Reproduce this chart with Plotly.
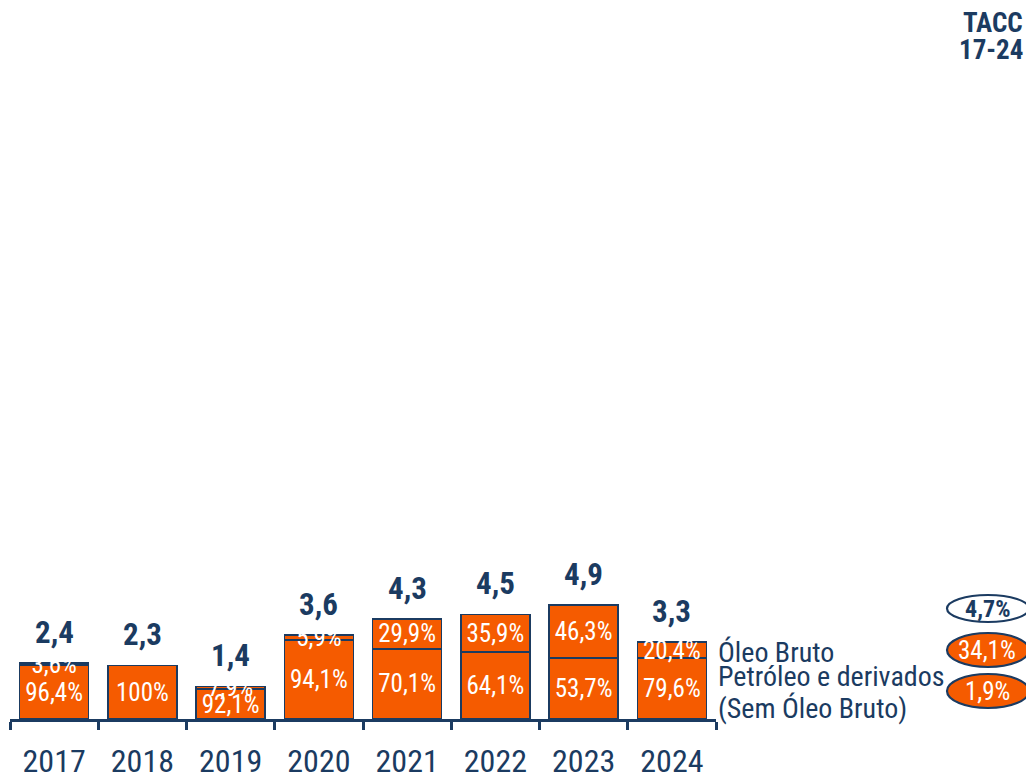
import plotly.graph_objects as go

years = ['2017', '2018', '2019', '2020', '2021', '2022', '2023', '2024']
totals = [2.4, 2.3, 1.4, 3.6, 4.3, 4.5, 4.9, 3.3]
share_oleo = [3.6, 0.0, 7.9, 5.9, 29.9, 35.9, 46.3, 20.4]
share_deriv = [96.4, 100.0, 92.1, 94.1, 70.1, 64.1, 53.7, 79.6]
series_names = ['Óleo Bruto', 'Petróleo e derivados<br>(Sem Óleo Bruto)']
tacc_title = 'TACC<br>17-24'
tacc_total = 4.7
tacc_oleo = 34.1
tacc_deriv = 1.9

ORANGE = '#F55B00'
NAVY = '#1B3B61'
FONT = 'Roboto Condensed, Liberation Sans Narrow, Arial Narrow, DejaVu Sans Condensed, Roboto, sans-serif'


def fmt(v, pct=True):
    if v == 0:
        return ''
    s = '100' if v == 100 else f'{v:.1f}'.replace('.', ',')
    return s + ('%' if pct else '')


deriv_vals = [t * s / 100 for t, s in zip(totals, share_deriv)]
oleo_vals = [t * s / 100 for t, s in zip(totals, share_oleo)]

fig = go.Figure()
fig.add_trace(go.Bar(
    x=years, y=deriv_vals, name=series_names[1],
    marker=dict(color=ORANGE, line=dict(color=NAVY, width=1.5)),
    text=[fmt(v) for v in share_deriv], textposition='inside',
    insidetextanchor='middle', constraintext='none', textangle=0,
    textfont=dict(color='white', size=25, family=FONT),
    width=0.78, showlegend=False, hoverinfo='skip',
))
fig.add_trace(go.Bar(
    x=years, y=oleo_vals, name=series_names[0],
    marker=dict(color=ORANGE, line=dict(color=NAVY, width=1.5)),
    text=[fmt(v) for v in share_oleo], textposition='inside',
    insidetextanchor='middle', constraintext='none', textangle=0,
    textfont=dict(color='white', size=25, family=FONT),
    width=0.78, showlegend=False, hoverinfo='skip',
))

annotations = []
for i, t in enumerate(totals):
    annotations.append(dict(
        x=i, y=t, xref='x', yref='y', text=f'<b>{fmt(t, pct=False)}</b>',
        showarrow=False, yanchor='bottom', yshift=10,
        font=dict(size=31, color=NAVY, family=FONT),
    ))

PLOT_TOP = 0.0
PLOT_BOTTOM = 719.0
L = 10.0
W_PLOT = 706.0


def px_x(p):
    return (p - L) / W_PLOT


def px_y(p):
    return (PLOT_BOTTOM - p) / (PLOT_BOTTOM - PLOT_TOP)


legend_lines = [(series_names[0], 652)] + list(zip(series_names[1].split('<br>'), [676, 708]))
for txt, yc in legend_lines:
    annotations.append(dict(
        x=px_x(716), y=px_y(yc), xref='paper', yref='paper', text=txt,
        showarrow=False, xanchor='left', yanchor='middle', align='left',
        font=dict(size=28, color=NAVY, family=FONT),
    ))
for txt, yc in zip(tacc_title.split('<br>'), [23, 50]):
    annotations.append(dict(
        x=px_x(1025), y=px_y(yc), xref='paper', yref='paper', text=f'<b>{txt}</b>',
        showarrow=False, xanchor='right', yanchor='middle', align='right',
        font=dict(size=27, color=NAVY, family=FONT),
    ))

shapes = []
ell = [
    (595, 622, 'white', f'<b>{fmt(tacc_total)}</b>', NAVY, 24),
    (633, 667, ORANGE, fmt(tacc_oleo), 'white', 25),
    (674, 708, ORANGE, fmt(tacc_deriv), 'white', 25),
]
for y0, y1, fill, txt, tcol, fs in ell:
    shapes.append(dict(
        type='circle', xref='paper', yref='paper',
        x0=px_x(947), x1=px_x(1029), y0=px_y(y1), y1=px_y(y0),
        fillcolor=fill, line=dict(color=NAVY, width=2.2), layer='above',
    ))
    annotations.append(dict(
        x=px_x(987), y=px_y((y0 + y1) / 2), xref='paper', yref='paper', text=txt,
        showarrow=False, xanchor='center', yanchor='middle',
        font=dict(size=fs, color=tcol, family=FONT),
    ))

fig.update_layout(
    barmode='stack', width=1026, height=781,
    margin=dict(l=10, r=310, t=0, b=62),
    paper_bgcolor='white', plot_bgcolor='white',
    font=dict(family=FONT, color=NAVY),
    annotations=annotations, shapes=shapes,
)
fig.update_xaxes(
    type='category', categoryorder='array', categoryarray=years,
    showline=True, linecolor=NAVY, linewidth=3,
    ticks='outside', tickson='boundaries', ticklen=8, tickwidth=3, tickcolor=NAVY,
    tickfont=dict(size=32, color=NAVY, family=FONT), ticklabelstandoff=12,
    showgrid=False, range=[-0.5, 7.5], fixedrange=True,
)
fig.update_yaxes(visible=False, range=[0, 30.9], showgrid=False, zeroline=False,
                 fixedrange=True)

fig.write_html(
    'out.html',
    config={'displayModeBar': False},
    post_script="document.body.style.margin='0';document.body.style.overflow='hidden';",
)
